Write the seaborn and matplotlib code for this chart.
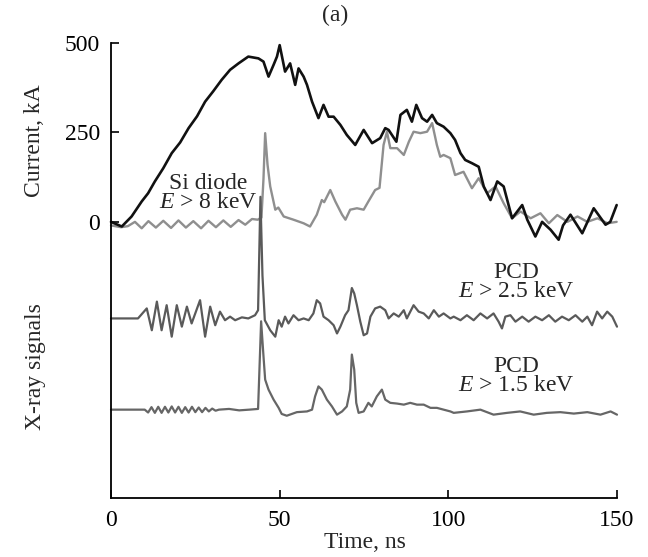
import numpy as np
import pandas as pd
import seaborn as sns
import matplotlib
matplotlib.use("Agg")
import matplotlib.pyplot as plt

# ---------------- data ----------------
# Discharge current, kA
cur_t = [0, 3.2, 6.1, 9.1, 11, 13, 15.5, 18, 20.5, 23, 25.5, 27.9, 30.3, 32.8, 35.3, 37.8, 40.7,
         43.7, 45.2, 46.7, 48.2, 49.2, 50, 51.6, 53.1, 54.6, 55.6, 57.1, 58.1, 59.6, 61.5, 63,
         64.5, 66, 68, 69.9, 72.4, 74.9, 77.4, 79.8, 81.3, 82.3, 84.6, 85.8, 87.7, 89.2, 90.5,
         92.2, 93.7, 95.2, 96.6, 98.6, 100.6, 102, 103.6, 105, 107, 109, 110.5, 112.5, 114.5,
         116.4, 118.9, 121.9, 123.4, 125.8, 127.8, 130.3, 132.7, 134, 136.2, 139.7, 143.1,
         146.6, 148, 149.9]
cur_v = [0, -13, 15, 57, 80, 113, 150, 192, 222, 262, 295, 336, 365, 397, 425, 443, 462,
         457, 448, 406, 439, 462, 494, 420, 443, 383, 429, 406, 383, 336, 290, 327,
         294, 294, 271, 243, 215, 257, 220, 234, 262, 257, 224, 299, 313, 280, 327,
         290, 280, 299, 276, 266, 248, 229, 192, 173, 164, 154, 99, 61, 113,
         99, 10, 47, 6, -41, 0, -22, -50, -10, 20, -32, 38,
         -8, 0, 47]

# Si diode (E > 8 keV), plotted in current units
si_t = [0, 3, 5, 7.1, 9.1, 11.1, 13.3, 15.5, 17.8, 20, 22.2, 24.4, 26.7, 28.9, 31.1, 33.3,
        35.5, 37.8, 39.8, 41.8, 43.5, 44.6, 45.2, 45.7, 46.4, 47.2, 48.7, 49.6, 51.2, 54.1,
        57.1, 59, 61, 62.5, 63.2, 65, 66.5, 68.5, 69.5, 70.9, 72.9, 74.9, 76.3, 78.3, 79.6,
        80.8, 81.8, 82.8, 84.8, 86.8, 88.3, 89.7, 91.7, 93.7, 95.2, 96.6, 97.6, 98.6, 100.6,
        102, 104.5, 107, 109, 111.5, 114, 116.4, 118.9, 121.4, 124.4, 127.3, 129.8, 132.3,
        135.3, 138.3, 141.2, 144.2, 147.2, 149.9]
si_v = [-10, -15, -12, 0, -18, 2, -16, 3, -17, 4, -16, 2, -18, 3, -15, 4,
        -14, 5, -8, 8, 6, 12, 120, 248, 160, 99, 34, 40, 15, 6,
        -4, -13, 20, 61, 55, 89, 57, 20, 6, 34, 38, 34, 57, 89, 95,
        215, 252, 206, 206, 187, 224, 252, 248, 252, 276, 215, 182, 187, 178,
        131, 140, 94, 122, 80, 99, 52, 10, 29, 10, 24, -4, 19,
        0, 15, 0, 10, -4, 0]

# PCD (E > 2.5 keV), relative signal
pcd25_t = [0, 8, 10.6, 12.1, 13.6, 15.0, 16.5, 18.0, 19.5, 21.0, 22.5, 23.9, 26.4, 27.9, 29.4,
           30.9, 32.3, 33.8, 35.3, 36.8, 38.8, 40.7, 42.7, 43.6, 44.3, 44.9, 45.6, 47.2, 48.7,
           49.7, 50.6, 51.6, 52.6, 54.1, 55.6, 57.1, 58.6, 60.0, 61.0, 62.0, 63.0, 64.5, 66.0,
           67.0, 68.0, 69.4, 70.4, 71.4, 72.1, 72.9, 73.9, 74.9, 75.9, 76.9, 78.3, 79.8, 81.3,
           82.3, 83.8, 85.3, 86.8, 87.7, 89.7, 91.2, 92.7, 94.2, 95.7, 97.2, 98.6, 100.6,
           101.6, 103.6, 105.5, 107.5, 109.5, 111.5, 113.4, 114.9, 115.9, 116.9, 118.4, 119.9,
           121.9, 123.8, 125.8, 127.8, 129.8, 131.7, 133.7, 135.7, 137.7, 139.7, 141.2, 142.6,
           144.1, 145.6, 147.1, 148.6, 150]
pcd25_v = [0, 0, 28, -33, 47, -33, 37, -51, 37, -23, 33, -14, 51, -51, 33,
           -19, 19, -5, 5, -5, 3, 0, 9, 23, 340, 120, -5, -33, -51,
           -5, -23, 5, -14, 9, -5, 0, -5, 14, 51, 42, 5, -5, -19,
           -42, -23, 9, 23, 85, 70, 37, -9, -47, -42, 5, 28, 33, 23,
           0, 14, 5, 23, 0, 37, 19, 14, 0, 23, 5, 14, 0,
           5, -5, 9, -5, 14, 0, 14, -9, -28, 5, 9, -9,
           5, -9, 5, -5, 9, -9, 5, -5, 9, -9, 5, -19,
           19, 0, 19, 5, -23]

# PCD (E > 1.5 keV), relative signal
pcd15_t = [0, 9, 10, 11, 12, 13, 14, 15, 16, 17, 18, 19, 20, 21, 22, 23, 24, 25, 26, 27, 28,
           29, 30, 31, 32, 35, 38, 41, 43.6, 44.5, 45.2, 45.7, 46.7, 48.2, 49.7, 50.6, 52.1,
           55.1, 58.1, 59.6, 60.5, 61.5, 62.5, 64.0, 65.5, 67.0, 68.5, 69.9, 70.9, 71.4, 72.1,
           72.7, 73.4, 74.9, 76.3, 77.3, 78.8, 80.3, 81.3, 82.8, 84.8, 86.8, 88.7, 90.7, 92.7,
           94.7, 96.6, 98.6, 100.6, 101.6, 105.5, 109.5, 113.4, 117.4, 121.3, 125.3, 129.2,
           133.2, 137.2, 141.2, 145.1, 148.1, 150]
pcd15_v = [0, 0, 0, -8, 7, -9, 8, -9, 8, -8, 9, -8, 8, -9, 7, -8, 8, -7, 6, -7, 5,
           -5, 3, -3, 0, 2, -2, 0, 2, 247, 150, 84, 56, 28, 5, -12, -17,
           -7, -5, 0, 37, 65, 56, 28, 9, -14, -5, 9, 56, 154, 112,
           19, -9, -5, 19, 9, 37, 56, 28, 19, 17, 14, 19, 14, 14,
           5, 5, 0, -5, -9, -5, 0, -14, -9, -5, -14, -9,
           -7, -11, -7, -14, -5, -14]

pcd25_offset = -270
pcd15_offset = -525

x_ticks = [0, 50, 100, 150]
y_ticks = [0, 250, 500]

# ---------------- style ----------------
sns.set_theme(style="ticks")
plt.rcParams['font.family'] = ['Liberation Serif', 'DejaVu Serif']
plt.rcParams['mathtext.fontset'] = 'custom'
plt.rcParams['mathtext.rm'] = 'Liberation Serif'
plt.rcParams['mathtext.it'] = 'Liberation Serif:italic'

W, H = 648, 557
fig = plt.figure(figsize=(W / 100, H / 100), dpi=100)
L, R, T, B = 111, 617, 43, 498
ax = fig.add_axes([L / W, 1 - B / H, (R - L) / W, (B - T) / H])

fs = 17

sns.lineplot(x=np.array(si_t), y=np.array(si_v), ax=ax, color="#8f8f8f", lw=1.7,
             estimator=None, sort=False)
sns.lineplot(x=np.array(pcd25_t), y=np.array(pcd25_v) + pcd25_offset, ax=ax, color="#5a5a5a",
             lw=1.6, estimator=None, sort=False)
sns.lineplot(x=np.array(pcd15_t), y=np.array(pcd15_v) + pcd15_offset, ax=ax, color="#666666",
             lw=1.6, estimator=None, sort=False)
sns.lineplot(x=np.array(cur_t), y=np.array(cur_v), ax=ax, color="#111111", lw=1.9,
             estimator=None, sort=False)

ax.set_xlim(0, 150)
ax.set_ylim(-772, 500)
ax.set_xticks(x_ticks)
ax.set_yticks(y_ticks)
ax.set_xticklabels([str(v) for v in x_ticks], fontsize=fs)
ax.set_yticklabels([str(v) for v in y_ticks], fontsize=fs)
ax.tick_params(axis='both', direction='in', length=6, width=1.2, colors='black')
ax.tick_params(axis='x', pad=9)
ax.tick_params(axis='y', pad=8)
for s in ['top', 'right']:
    ax.spines[s].set_visible(False)
for s in ['left', 'bottom']:
    ax.spines[s].set_linewidth(1.3)
    ax.spines[s].set_color('black')
ax.set_xlabel("")
ax.set_ylabel("")
for ln in ax.get_lines():
    ln.set_clip_on(False)


def ftext(px, py, s, **kw):
    fig.text(px / W, 1 - py / H, s, ha='center', va='center', fontsize=fs,
             multialignment='center', **kw)


ftext(335, 15, "(a)")
ftext(365, 543, "Time, ns")
ftext(35, 141, "Current, kA", rotation=90)
ftext(35, 367, "X-ray signals", rotation=90)
ftext(208, 193, "Si diode\n$E$ > 8 keV", linespacing=0.85)
ftext(516, 282, "PCD\n$E$ > 2.5 keV", linespacing=0.85)
ftext(516, 376, "PCD\n$E$ > 1.5 keV", linespacing=0.85)

fig.savefig("out.png", dpi=100)
